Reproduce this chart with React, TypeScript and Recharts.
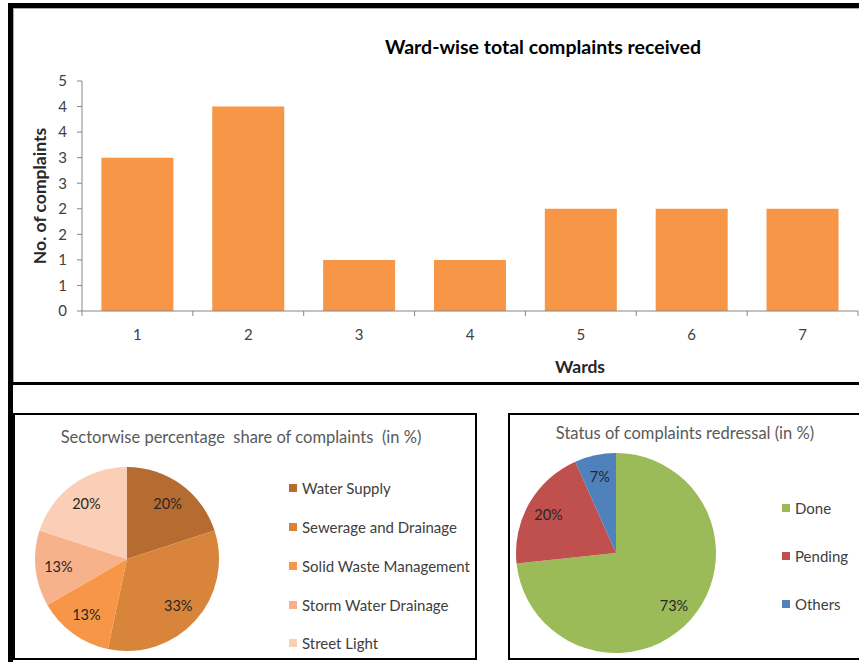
import { Bar, BarChart, Cell, Label, Legend, Pie, PieChart, XAxis, YAxis } from "recharts";

// ward-wise complaints
const wards = ["1", "2", "3", "4", "5", "6", "7"];
const wardComplaints = [3, 4, 1, 1, 2, 2, 2];
const countTicks = [0, 0.5, 1, 1.5, 2, 2.5, 3, 3.5, 4, 4.5];

// sector shares (counts out of 15)
const sectors = [
  "Water Supply",
  "Sewerage and Drainage",
  "Solid Waste Management",
  "Storm Water Drainage",
  "Street Light",
];
const sectorCounts = [3, 5, 2, 2, 3];
const sectorColors = ["#B66C30", "#D8843B", "#F79646", "#F8B28B", "#FBCFB6"];

// redressal status (counts out of 15)
const statuses = ["Done", "Pending", "Others"];
const statusCounts = [11, 3, 1];
const statusColors = ["#9BBB59", "#C0504D", "#4F81BD"];

const FONT = "Lato, 'Open Sans', sans-serif";
const RAD = Math.PI / 180;

const wardData = wards.map((w, i) => ({ ward: w, total: wardComplaints[i] }));
const sectorData = sectors.map((s, i) => ({ name: s, value: sectorCounts[i] }));
const statusData = statuses.map((s, i) => ({ name: s, value: statusCounts[i] }));

const X_TICK_SIZE = 5;
const X_TICK_MARGIN = 13;

// Excel style: tick marks sit between categories, label in the middle
function WardTick(props: any) {
  const { x, y, payload, index, visibleTicksCount } = props;
  const half = payload?.offset ?? 0;
  const axisY = y - X_TICK_SIZE - X_TICK_MARGIN;
  const last = index === visibleTicksCount - 1;
  return (
    <g>
      <line x1={x - half} x2={x - half} y1={axisY} y2={axisY + X_TICK_SIZE} stroke="#868686" />
      {last && <line x1={x + half} x2={x + half} y1={axisY} y2={axisY + X_TICK_SIZE} stroke="#868686" />}
      <text x={x} y={y} dy="0.71em" textAnchor="middle" fill="#404040" fontSize={15} fontFamily={FONT}>
        {payload.value}
      </text>
    </g>
  );
}

function pctLabel(factor: number) {
  return (p: any) => {
    const r = p.outerRadius * factor;
    const x = p.cx + r * Math.cos(-p.midAngle * RAD);
    const y = p.cy + r * Math.sin(-p.midAngle * RAD);
    return (
      <text
        x={x}
        y={y}
        textAnchor="middle"
        dominantBaseline="central"
        fill="#262626"
        fontSize={14.5}
        fontFamily={FONT}
      >
        {`${Math.round(p.percent * 100)}%`}
      </text>
    );
  };
}

function SideLegend({ payload, rowHeight, names, colors }: any) {
  const items = [...(payload || [])].sort(
    (a: any, b: any) => names.indexOf(a.value) - names.indexOf(b.value)
  );
  return (
    <div style={{ fontFamily: FONT, fontSize: 15, color: "#404040" }}>
      {items.map((entry: any) => (
        <div key={entry.value} style={{ display: "flex", alignItems: "center", height: rowHeight }}>
          <span
            style={{
              display: "inline-block",
              width: 8,
              height: 8,
              marginRight: 5,
              background: colors[names.indexOf(entry.value)] ?? entry.color,
            }}
          />
          <span>{entry.value}</span>
        </div>
      ))}
    </div>
  );
}

export default function App() {
  return (
    <div style={{ position: "absolute", left: 0, top: 0, width: 859, height: 662, overflow: "hidden", background: "#fff" }}>
      {/* outer frame */}
      <div
        style={{
          position: "absolute",
          left: 8,
          top: 3,
          width: 1000,
          height: 800,
          borderLeft: "5px solid #000",
          borderTop: "5px solid #000",
        }}
      />
      <div style={{ position: "absolute", left: 13, top: 8, width: 1000, height: 374, borderLeft: "1px solid #aaa", borderTop: "1px solid #aaa" }} />
      <div style={{ position: "absolute", left: 8, top: 382, width: 900, height: 3, background: "#000" }} />

      {/* bar chart */}
      <div style={{ position: "absolute", left: 0, top: 0 }}>
        <BarChart
          width={859}
          height={385}
          data={wardData}
          margin={{ top: 81, right: 1, bottom: 0, left: 0 }}
          barCategoryGap="17.5%"
        >
          <XAxis
            dataKey="ward"
            height={74}
            stroke="#868686"
            tickLine={false}
            tickSize={X_TICK_SIZE}
            tickMargin={X_TICK_MARGIN}
            tick={<WardTick />}
            interval={0}
          >
            <Label
              value="Wards"
              position="insideBottom"
              offset={12}
              dx={110}
              style={{ fontFamily: FONT, fontSize: 17.5, fontWeight: 700, fill: "#262626" }}
            />
          </XAxis>
          <YAxis
            width={82}
            domain={[0, 4.5]}
            ticks={countTicks}
            interval={0}
            stroke="#868686"
            tickSize={5}
            tickMargin={10}
            tickFormatter={(v: number) => `${Math.round(v)}`}
            tick={{ fill: "#404040", fontSize: 15, fontFamily: FONT }}
          >
            <Label
              value="No. of complaints"
              angle={-90}
              position="insideLeft"
              offset={40}
              style={{ textAnchor: "middle", fontFamily: FONT, fontSize: 17.5, fontWeight: 700, fill: "#262626" }}
            />
          </YAxis>
          <Bar dataKey="total" fill="#F79646" isAnimationActive={false} />
        </BarChart>
      </div>
      <div
        style={{
          position: "absolute",
          left: 293,
          top: 35,
          width: 500,
          textAlign: "center",
          fontFamily: FONT,
          fontSize: 19.5,
          lineHeight: "24px",
          fontWeight: 700,
          color: "#000",
        }}
      >
        Ward-wise total complaints received
      </div>

      {/* sector pie panel */}
      <div
        style={{
          position: "absolute",
          left: 13,
          top: 413,
          width: 460,
          height: 243,
          border: "2px solid #000",
        }}
      >
        <PieChart width={460} height={243} margin={{ top: 0, right: 0, bottom: 0, left: 0 }}>
          <Pie
            data={sectorData}
            dataKey="value"
            nameKey="name"
            cx={112}
            cy={144}
            outerRadius={92}
            startAngle={90}
            endAngle={-270}
            stroke="none"
            labelLine={false}
            label={pctLabel(0.75)}
            isAnimationActive={false}
          >
            {sectorData.map((d, i) => (
              <Cell key={d.name} fill={sectorColors[i]} />
            ))}
          </Pie>
          <Legend
            layout="vertical"
            content={(p: any) => (
              <SideLegend {...p} rowHeight={38.75} names={sectors} colors={sectorColors} />
            )}
            wrapperStyle={{ left: 274, top: 54, width: 190 }}
          />
        </PieChart>
      </div>
      <div
        style={{
          position: "absolute",
          left: 41,
          top: 427,
          width: 400,
          textAlign: "center",
          fontFamily: FONT,
          fontSize: 16.5,
          lineHeight: "20px",
          color: "#595959",
          whiteSpace: "pre",
        }}
      >
        {"Sectorwise percentage  share of complaints  (in %)"}
      </div>

      {/* status pie panel */}
      <div
        style={{
          position: "absolute",
          left: 508,
          top: 413,
          width: 400,
          height: 243,
          border: "2px solid #000",
        }}
      >
        <PieChart width={400} height={243} margin={{ top: 0, right: 0, bottom: 0, left: 0 }}>
          <Pie
            data={statusData}
            dataKey="value"
            nameKey="name"
            cx={106}
            cy={138}
            outerRadius={100}
            startAngle={90}
            endAngle={-270}
            stroke="none"
            labelLine={false}
            label={pctLabel(0.78)}
            isAnimationActive={false}
          >
            {statusData.map((d, i) => (
              <Cell key={d.name} fill={statusColors[i]} />
            ))}
          </Pie>
          <Legend
            layout="vertical"
            content={(p: any) => (
              <SideLegend {...p} rowHeight={48} names={statuses} colors={statusColors} />
            )}
            wrapperStyle={{ left: 272, top: 69, width: 100 }}
          />
        </PieChart>
      </div>
      <div
        style={{
          position: "absolute",
          left: 435,
          top: 423,
          width: 500,
          textAlign: "center",
          fontFamily: FONT,
          fontSize: 16.5,
          lineHeight: "20px",
          color: "#595959",
        }}
      >
        Status of complaints redressal (in %)
      </div>
    </div>
  );
}
